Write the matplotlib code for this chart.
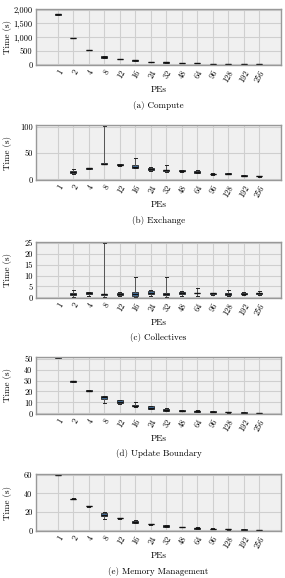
import matplotlib.pyplot as plt
import numpy as np

plt.rcParams['font.family'] = 'serif'
plt.rcParams['font.serif'] = ['cmr10', 'DejaVu Serif']
plt.rcParams['axes.formatter.use_mathtext'] = True

pes = ['1', '2', '4', '8', '12', '16', '24', '32', '48', '64', '96', '128', '192', '256']

# (whislo, q1, med, q3, whishi) per PE count, None = no data
compute = [(1810, 1815, 1820, 1830, 1835), (955, 958, 960, 965, 968), (525, 528, 530, 535, 538),
           (225, 240, 280, 300, 305), (195, 198, 200, 205, 208), (130, 135, 140, 148, 152),
           (90, 93, 95, 98, 100), (62, 66, 70, 75, 78), (40, 43, 45, 48, 50), (30, 32, 35, 38, 40),
           (19, 20, 22, 24, 25), (15, 16, 18, 20, 21), (10, 11, 12, 13, 14), (6, 7, 8, 9, 10)]
exchange = [None, (11, 13, 14, 16, 19), (20, 20.5, 21, 22, 22.5), (29, 29.5, 30, 31, 101),
            (26, 26.5, 28, 29, 29.5), (21, 22, 24, 27, 41), (16, 18, 19, 21, 23), (14, 16, 17, 18, 28),
            (15, 15.5, 16, 17, 17.5), (12, 13, 14, 16, 18), (9, 9.5, 10, 11, 11.5), (10, 10.5, 11, 12, 12.5),
            (7, 7.2, 7.5, 8, 8.3), (5.5, 5.8, 6, 6.5, 6.8)]
collectives = [None, (0.3, 1.0, 1.5, 2.0, 3.5), (0.5, 1.7, 2.0, 2.3, 2.5), (0.2, 1.3, 1.5, 1.7, 25),
               (0.5, 1.2, 1.5, 2.0, 2.3), (0.3, 0.8, 1.5, 2.3, 9.5), (0.7, 1.5, 2.2, 3.0, 3.5),
               (0.3, 1.2, 1.7, 2.2, 9.2), (0.7, 1.7, 2.0, 2.5, 3.0), (0.5, 1.8, 2.0, 2.2, 4.5),
               (1.2, 1.5, 1.8, 2.0, 2.2), (0.5, 1.3, 1.5, 1.8, 3.5), (1.0, 1.4, 1.7, 2.0, 2.3),
               (1.2, 1.5, 1.8, 2.2, 3.0)]
update = [(50.8, 51, 51.2, 51.4, 51.5), (28.8, 29, 29.2, 29.4, 29.5), (20.3, 20.5, 20.7, 20.9, 21),
          (9, 13, 14.5, 15.5, 16), (8.8, 9, 10, 12, 12.3), (6.2, 6.5, 7, 7.5, 10), (3.8, 4, 5, 6.5, 6.8),
          (2.3, 2.5, 3.5, 4.3, 4.5), (1.8, 2, 2.5, 3, 3.5), (1.0, 1.2, 1.8, 2.2, 3.5), (0.8, 1, 1.3, 2, 2.2),
          (0.7, 0.8, 1.0, 1.3, 1.5), (0.4, 0.5, 0.6, 0.8, 0.9), (0.2, 0.3, 0.4, 0.5, 0.6)]
memory = [(59.6, 59.8, 60, 60.2, 60.4), (33.8, 34, 34.2, 34.4, 34.6), (25.8, 26, 26.2, 26.4, 26.6),
          (12, 16, 17, 19, 19.5), (12.8, 13, 13.2, 13.4, 13.6), (8.3, 8.5, 9.5, 10.5, 10.8),
          (6.2, 6.4, 6.5, 6.8, 7), (3.8, 4, 5, 5.5, 5.8), (3.2, 3.4, 3.5, 3.8, 4), (1.8, 2, 2.5, 3, 3.2),
          (1.5, 1.6, 1.8, 2, 2.1), (0.9, 1, 1.2, 1.5, 1.6), (0.6, 0.7, 0.8, 1, 1.1), (0.3, 0.4, 0.5, 0.7, 0.8)]

panels = [
    (compute, '(a) Compute', (-25, 2020), [0, 500, 1000, 1500, 2000], 65),
    (exchange, '(b) Exchange', (-1, 103), [0, 50, 100], 180),
    (collectives, '(c) Collectives', (-0.3, 25.5), [0, 5, 10, 15, 20, 25], 298),
    (update, '(d) Update Boundary', (-0.6, 51.5), [0, 10, 20, 30, 40, 50], 414),
    (memory, '(e) Memory Management', (-0.7, 61), [0, 20, 40, 60], 531),
]

W, H = 285, 578
fig = plt.figure(figsize=(W / 100, H / 100), dpi=100)
left, right = 36, 281
heights = [56, 55, 56, 57, 57]

for (data, caption, ylim, yticks, bottom), h in zip(panels, heights):
    ax = fig.add_axes([left / W, 1 - bottom / H, (right - left) / W, h / H])
    ax.set_facecolor('#f0f0f0')
    stats, pos = [], []
    for i, d in enumerate(data):
        if d is None:
            continue
        lo, q1, med, q3, hi = d
        stats.append(dict(whislo=lo, q1=q1, med=med, q3=q3, whishi=hi, fliers=[]))
        pos.append(i)
    ax.bxp(stats, positions=pos, widths=0.4, patch_artist=True, showfliers=False,
           boxprops=dict(facecolor='#4a7db0', edgecolor='#2a2a2a', linewidth=0.6),
           medianprops=dict(color='#111111', linewidth=1.0),
           whiskerprops=dict(color='#555555', linewidth=0.7),
           capprops=dict(color='#222222', linewidth=0.7))
    ax.set_xlim(-1.4, 14.4)
    ax.set_ylim(*ylim)
    ax.set_yticks(yticks)
    ax.set_yticklabels(['{:,}'.format(t) for t in yticks])
    ax.set_xticks(range(len(pes)))
    ax.set_xticklabels(pes, rotation=60, ha='right', rotation_mode='anchor')
    ax.tick_params(labelsize=6, length=0, pad=2.5)
    ax.grid(True, color='#cfcfcf', linewidth=0.8)
    ax.set_axisbelow(True)
    for s in ax.spines.values():
        s.set_color('#999999')
        s.set_linewidth(1.0)
    ax.set_ylabel('Time (s)', fontsize=6.5)
    ax.yaxis.set_label_coords((12 - left) / (right - left), 0.5)
    fig.text((left + right) / 2 / W, 1 - (bottom + 25) / H, 'PEs', ha='center', va='center', fontsize=6.5)
    fig.text((left + right) / 2 / W, 1 - (bottom + 40) / H, caption, ha='center', va='center', fontsize=6.5)

fig.savefig('out.png', dpi=100)
